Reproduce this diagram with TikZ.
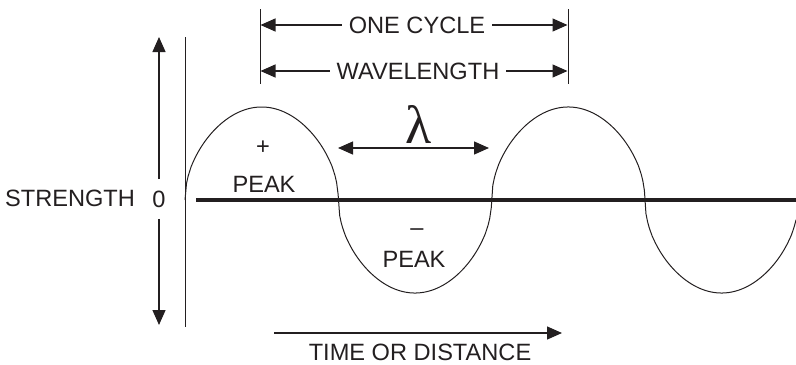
\documentclass[tikz,border=0pt]{standalone}
\usepackage{fontspec}
\setmainfont{Liberation Sans}
\newfontfamily\greekfont{Liberation Serif}
\usepackage{tikz}
\usetikzlibrary{arrows.meta}
\definecolor{inkblack}{RGB}{35,31,32}

\begin{document}
\begin{tikzpicture}[x=0.5pt, y=-0.5pt, >={Triangle[length=7.5pt,width=6.5pt]},
    txt/.style={font=\fontsize{11.8}{13}\selectfont, text=inkblack},
    thinline/.style={draw=inkblack, line width=0.5pt},
    dimarrow/.style={draw=inkblack, line width=0.65pt},
    declare function={wv(\t)=sin((\t-185)/153.3*180);}]

\useasboundingbox (0,0) rectangle (796,364);

% zero line and left edge
\coordinate (axisL) at (196,200);
\coordinate (axisR) at (796,200);
\draw[inkblack, line width=2.3pt] (axisL) -- (axisR);

\coordinate (edgeT) at (185,37);
\coordinate (edgeB) at (185,327);
\draw[thinline] (edgeT) -- (edgeB);

% the wave
\draw[thinline] plot[domain=185:796, samples=400]
    (\x, {200 - 93*sign(wv(\x))*pow(abs(wv(\x))+0.00001,0.5)});

% strength axis
\node[txt, anchor=base] (strength) at (70,206) {STRENGTH};
\node[txt, inner ysep=5.5pt] (zero) at (159,199) {0};
\coordinate (strTop) at (159,37);
\coordinate (strBot) at (159,325);
\draw[dimarrow, ->] (zero) -- (strTop);
\draw[dimarrow, ->] (zero) -- (strBot);

% cycle marks
\coordinate (cycL0) at (260,9);
\coordinate (cycL1) at (260,84);
\coordinate (cycR0) at (568,9);
\coordinate (cycR1) at (568,84);
\draw[thinline] (cycL0) -- (cycL1);
\draw[thinline] (cycR0) -- (cycR1);

\node[txt] (onecycle) at (417,25) {ONE CYCLE};
\coordinate (oneL) at (260.5,25);
\coordinate (oneR) at (567.5,25);
\draw[dimarrow, ->] (onecycle) -- (oneL);
\draw[dimarrow, ->] (onecycle) -- (oneR);

\node[txt] (wavelength) at (418,71) {WAVELENGTH};
\coordinate (waveL) at (260.5,71);
\coordinate (waveR) at (567.5,71);
\draw[dimarrow, ->] (wavelength) -- (waveL);
\draw[dimarrow, ->] (wavelength) -- (waveR);

% lambda
\node[anchor=base, inner sep=0pt, text=inkblack,
      font=\greekfont\fontsize{27}{27}\selectfont] (lambda) at (419,143) {λ};
\coordinate (lamL) at (338,148);
\coordinate (lamR) at (489,148);
\draw[dimarrow, <->] (lamL) -- (lamR);

% peaks
\node[txt, anchor=base] (plus) at (263,154) {+};
\node[txt, anchor=base] (peakup) at (264,192) {PEAK};
\node[txt, anchor=base] (minus) at (417,235) {–};
\node[txt, anchor=base] (peakdown) at (414,267) {PEAK};

% time axis
\coordinate (timeL) at (274,333);
\coordinate (timeR) at (562,333);
\draw[dimarrow, ->] (timeL) -- (timeR);
\node[txt, anchor=base] (timedist) at (420,360) {TIME OR DISTANCE};

\end{tikzpicture}
\end{document}
